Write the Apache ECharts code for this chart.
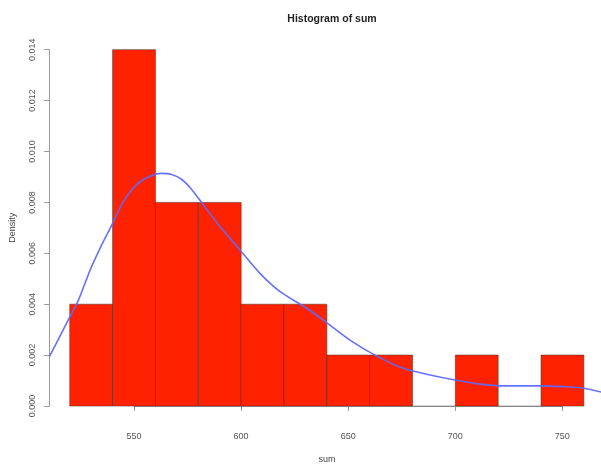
<!DOCTYPE html>
<html><head><meta charset="utf-8">
<script src="https://cdn.jsdelivr.net/npm/echarts@6/dist/echarts.min.js"></script>
<style>html,body{margin:0;padding:0;background:#fff}#c{width:601px;height:466px}</style>
</head><body><div id="c"></div>
<script>
// Histogram bins (sum) and their densities
const binStarts = [520, 540, 560, 580, 600, 620, 640, 660, 680, 700, 720, 740];
const binEnds   = [540, 560, 580, 600, 620, 640, 660, 680, 700, 720, 740, 760];
const densities = [0.004, 0.014, 0.008, 0.008, 0.004, 0.004, 0.002, 0.002, 0, 0.002, 0, 0.002];

// Kernel density curve
const curveX = [510.5, 519.3, 524.0, 529.5, 534.9, 539.6, 545.0, 549.5, 553.5, 558.0, 562.5, 567.5, 572.0, 576.5, 582.4, 590.1, 599.5, 608.8, 618.2, 630.6, 640.0, 650.8, 663.3, 675.7, 688.2, 699.9, 711.5, 722.4, 739.5, 750.4, 759.8, 768.4];
const curveY = [0.00194, 0.00338, 0.00415, 0.00534, 0.00633, 0.00711, 0.00803, 0.00855, 0.00885, 0.00905, 0.00914, 0.00910, 0.00892, 0.00855, 0.00790, 0.00705, 0.00613, 0.00521, 0.00449, 0.00384, 0.00327, 0.00259, 0.00196, 0.00148, 0.00122, 0.00102, 0.00086, 0.00079, 0.00079, 0.00076, 0.00070, 0.00054];

// Axis ticks
const xTicks = [550, 600, 650, 700, 750];
const yTicks = [0, 0.002, 0.004, 0.006, 0.008, 0.010, 0.012, 0.014];

const titleText = 'Histogram of sum';
const xName = 'sum';
const yName = 'Density';

const FONT = 'Liberation Sans, Arial, Helvetica, sans-serif';
const chart = echarts.init(document.getElementById('c'), null, {renderer: 'canvas'});

const histData = binStarts.map((s, i) => [s, binEnds[i], densities[i]]);
const curveData = curveX.map((x, i) => [x, curveY[i]]);

chart.setOption({
  animation: false,
  backgroundColor: '#fff',
  title: {
    text: titleText, left: 327, top: 9, textAlign: 'center',
    textStyle: {fontFamily: FONT, fontSize: 10.5, fontWeight: 'bold', color: '#222'}
  },
  graphic: [
    {type: 'text', x: 327, y: 455,
     style: {text: xName, fontFamily: FONT, fontSize: 9, fill: '#444', align: 'center'}}
  ],
  grid: [
    {left: 49.2, right: 0, top: 49.7, bottom: 60},
    {left: 134, right: 38.7, top: 49.7, bottom: 60}
  ],
  xAxis: [
    {gridIndex: 0, type: 'value', min: 510.4, max: 768.0, show: false},
    {gridIndex: 1, type: 'value', min: xTicks[0], max: xTicks[xTicks.length - 1], interval: 50,
     position: 'bottom', offset: 15,
     axisLine: {show: true, lineStyle: {color: '#999', width: 1}},
     axisTick: {show: true, length: 5, lineStyle: {color: '#999'}},
     axisLabel: {margin: 11, fontFamily: FONT, fontSize: 9, color: '#555'},
     splitLine: {show: false}}
  ],
  yAxis: [
    {gridIndex: 0, type: 'value', min: yTicks[0], max: yTicks[yTicks.length - 1], interval: 0.002,
     name: yName, nameLocation: 'middle', nameGap: 32, nameRotate: 90,
     nameTextStyle: {fontFamily: FONT, fontSize: 9, color: '#444'},
     axisLine: {show: true, lineStyle: {color: '#999', width: 1}},
     axisTick: {show: true, length: 5, lineStyle: {color: '#999'}},
     axisLabel: {rotate: 90, margin: 12, fontFamily: FONT, fontSize: 9, color: '#555',
                 formatter: v => v.toFixed(3)},
     splitLine: {show: false}},
    {gridIndex: 1, type: 'value', min: 0, max: 1, show: false}
  ],
  series: [
    {
      type: 'custom', xAxisIndex: 0, yAxisIndex: 0, data: histData,
      encode: {x: [0, 1], y: 2},
      renderItem: (params, api) => {
        const p0 = api.coord([api.value(0), api.value(2)]);
        const p1 = api.coord([api.value(1), 0]);
        if (api.value(2) === 0) {
          return {type: 'line', shape: {x1: p0[0], y1: p1[1], x2: p1[0], y2: p1[1]},
                  style: {stroke: 'rgba(90,90,90,0.5)', lineWidth: 1}};
        }
        return {type: 'rect',
                shape: {x: p0[0], y: p0[1], width: p1[0] - p0[0], height: p1[1] - p0[1]},
                style: {fill: '#ff2200', stroke: 'rgba(90,40,30,0.55)', lineWidth: 1}};
      }
    },
    {
      type: 'line', xAxisIndex: 0, yAxisIndex: 0, data: curveData,
      smooth: 0.3, showSymbol: false, symbol: 'none', clip: true,
      lineStyle: {color: '#5c6cff', width: 1.6, opacity: 0.95}
    },
    {type: 'scatter', xAxisIndex: 1, yAxisIndex: 1, data: [], silent: true}
  ]
});
</script></body></html>
